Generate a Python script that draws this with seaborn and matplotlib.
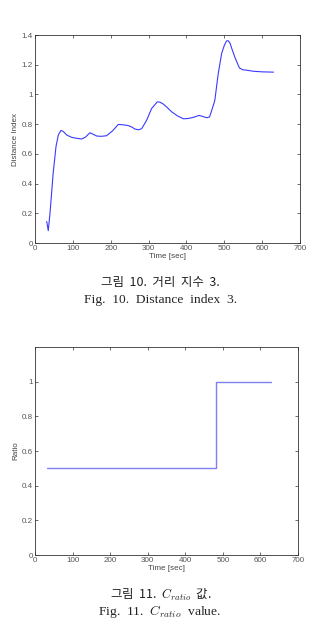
import matplotlib
matplotlib.use("Agg")
import matplotlib.pyplot as plt
import seaborn as sns
import pandas as pd

# Distance index (Fig. 10)
time_dist = [31, 35, 39.6, 48, 55.5, 61.6, 68.7, 75, 83.6, 97, 110, 123, 133, 145, 155, 163, 175, 189,
             205, 220, 235, 246.5, 256, 264, 274, 282, 295, 308, 323, 330, 339, 350, 361, 376, 392,
             404, 414, 424, 433, 443, 453, 461, 467, 475, 484, 493, 500, 506, 510, 515, 521, 528,
             540, 549, 559, 577, 600, 630]
dist_index = [0.145, 0.083, 0.2, 0.47, 0.65, 0.727, 0.758, 0.75, 0.727, 0.711, 0.705, 0.70, 0.712,
              0.742, 0.73, 0.72, 0.718, 0.722, 0.755, 0.798, 0.795, 0.79, 0.78, 0.767, 0.762, 0.77,
              0.827, 0.905, 0.95, 0.948, 0.935, 0.91, 0.883, 0.856, 0.836, 0.838, 0.843, 0.85, 0.859,
              0.852, 0.843, 0.848, 0.894, 0.96, 1.14, 1.275, 1.33, 1.36, 1.362, 1.346, 1.30, 1.25,
              1.178, 1.166, 1.163, 1.156, 1.152, 1.15]

# Ratio (Fig. 11)
time_ratio = [31, 483, 483, 629]
ratio_vals = [0.5, 0.5, 1.0, 1.0]

x_ticks = [0, 100, 200, 300, 400, 500, 600, 700]
y1_ticks = [0, 0.2, 0.4, 0.6, 0.8, 1, 1.2, 1.4]
y2_ticks = [0, 0.2, 0.4, 0.6, 0.8, 1]

sns.set_theme(style="ticks")
plt.rcParams['font.family'] = ['Liberation Sans', 'DejaVu Sans']
plt.rcParams['mathtext.fontset'] = 'cm'

W, H = 314, 632
fig = plt.figure(figsize=(W / 100, H / 100), dpi=100)

def px_axes(l, t, r, b):
    return fig.add_axes([l / W, 1 - b / H, (r - l) / W, (b - t) / H])

def style(ax, ylabel, yticks, ylim):
    ax.set_xlim(0, 700)
    ax.set_ylim(*ylim)
    ax.set_xticks(x_ticks)
    ax.set_xticklabels([str(v) for v in x_ticks])
    ax.set_yticks(yticks)
    ax.set_yticklabels([("%g" % v) for v in yticks])
    ax.tick_params(direction="in", length=2.5, width=0.5, labelsize=5.8,
                   colors="#333333", labelcolor="#555555", pad=1.5,
                   top=True, right=True)
    for s in ax.spines.values():
        s.set_visible(True)
        s.set_linewidth(0.6)
        s.set_color("#333333")
    ax.set_xlabel("Time [sec]", fontsize=5.8, color="#444444", labelpad=1)
    ax.set_ylabel(ylabel, fontsize=5.8, color="#444444", labelpad=2)

ax1 = px_axes(35, 35, 300, 243)
df1 = pd.DataFrame({"t": time_dist, "d": dist_index})
sns.lineplot(data=df1, x="t", y="d", ax=ax1, color="#3a3aff", linewidth=0.8,
             sort=False, estimator=None)
style(ax1, "Distance Index", y1_ticks, (0, 1.4))

ax2 = px_axes(35, 347, 298, 555)
df2 = pd.DataFrame({"t": time_ratio, "r": ratio_vals})
sns.lineplot(data=df2, x="t", y="r", ax=ax2, color="#7f7ff0", linewidth=1.0,
             sort=False, estimator=None)
style(ax2, "Ratio", y2_ticks, (0, 1.2))

kr = ['Noto Sans CJK KR', 'DejaVu Sans']
serif = ['Liberation Serif']
fig.text(160 / W, 1 - 283 / H, "그림  10.  거리  지수  3.", ha="center", va="center",
         fontsize=9, family=kr, color="#222222")
fig.text(161 / W, 1 - 300 / H, "Fig.  10.  Distance  index  3.", ha="center", va="center",
         fontsize=9.7, family=serif, color="#222222")
fig.text(161 / W, 1 - 595 / H, "그림  11.  $C_{ratio}$  값.", ha="center", va="center",
         fontsize=9, family=kr, color="#222222")
fig.text(160 / W, 1 - 612 / H, "Fig.  11.  $C_{ratio}$  value.", ha="center", va="center",
         fontsize=9.7, family=serif, color="#222222")

fig.savefig("out.png", dpi=100, facecolor="white")
